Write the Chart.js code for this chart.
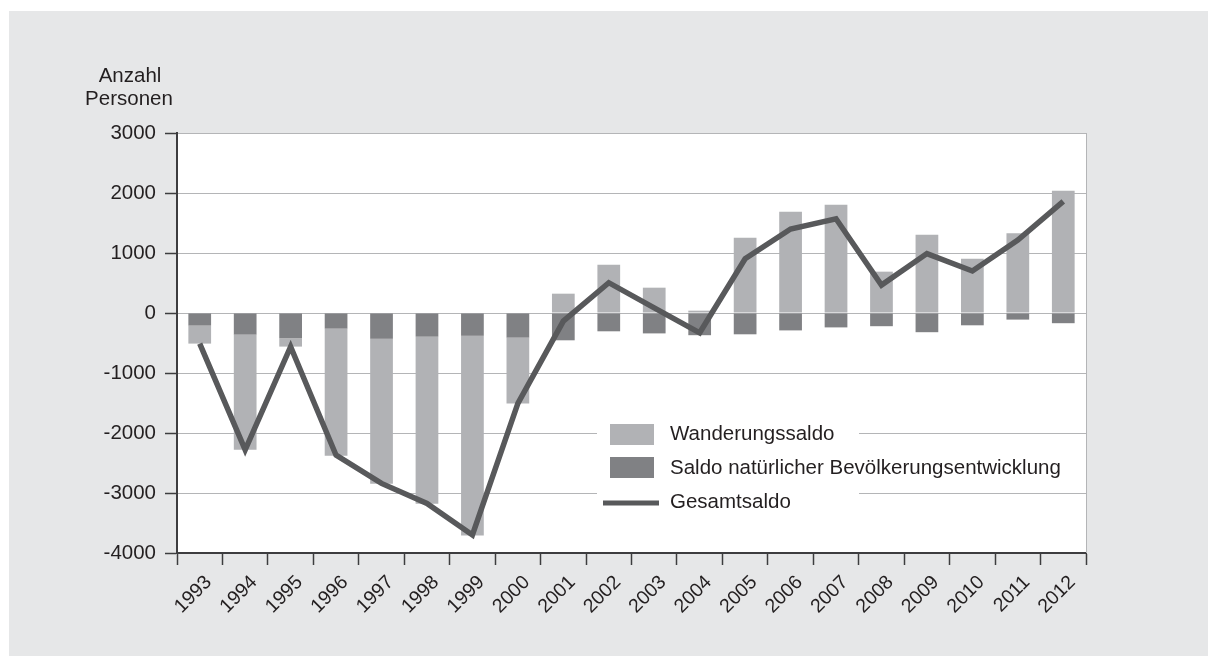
<!doctype html>
<html>
<head>
	<title>Bevölkerungssaldo 1993-2012</title>
	<script src="https://cdn.jsdelivr.net/npm/chart.js@4/dist/chart.umd.min.js"></script>
	<style>
	html, body {
		margin: 0;
		padding: 0;
		background: #fff;
	}
	.chart-container {
		width: 1208px;
		height: 656px;
	}
	</style>
</head>

<body>
	<div class="chart-container">
		<canvas id="chart"></canvas>
	</div>
	<script>
		var years = ['1993', '1994', '1995', '1996', '1997', '1998', '1999', '2000', '2001', '2002',
			'2003', '2004', '2005', '2006', '2007', '2008', '2009', '2010', '2011', '2012'];
		var natural = [-210, -360, -420, -260, -430, -395, -380, -410, -455, -305,
			-340, -370, -355, -290, -240, -220, -320, -205, -110, -170];
		var migration = [-300, -1920, -140, -2120, -2415, -2785, -3330, -1100, 322, 806,
			422, 39, 1256, 1689, 1806, 689, 1306, 906, 1328, 2039];
		var total = [-510, -2280, -560, -2370, -2840, -3175, -3700, -1505, -135, 505,
			85, -330, 905, 1400, 1570, 465, 990, 700, 1215, 1860];
		var seriesNames = ['Wanderungssaldo', 'Saldo natürlicher Bevölkerungsentwicklung', 'Gesamtsaldo'];
		var axisTitle = ['Anzahl', 'Personen'];

		var colors = {
			light: '#b1b2b5',
			dark: '#808184',
			line: '#58595b',
			panel: '#e6e7e8',
			grid: '#b4b5b7',
			axis: '#3d3d3f',
			text: '#231f20'
		};
		var fontFamily = "'Liberation Sans', Arial, sans-serif";
		var fontSize = 20.5;

		// background panel, white plot area, right border, title and legend
		var backdrop = {
			id: 'backdrop',
			beforeDraw: function(chart) {
				var ctx = chart.ctx;
				var a = chart.chartArea;
				ctx.save();
				ctx.fillStyle = '#fff';
				ctx.fillRect(0, 0, chart.width, chart.height);
				ctx.fillStyle = colors.panel;
				ctx.fillRect(9, 11, chart.width - 9, chart.height - 11);
				ctx.fillStyle = '#fff';
				ctx.fillRect(a.left, a.top, a.right - a.left, a.bottom - a.top);
				ctx.restore();
			},
			beforeDatasetsDraw: function(chart) {
				var ctx = chart.ctx;
				var a = chart.chartArea;
				ctx.save();
				ctx.strokeStyle = colors.grid;
				ctx.lineWidth = 1;
				ctx.beginPath();
				ctx.moveTo(a.right + 0.5, a.top);
				ctx.lineTo(a.right + 0.5, a.bottom);
				ctx.stroke();

				// axis title
				ctx.fillStyle = colors.text;
				ctx.font = fontSize + 'px ' + fontFamily;
				ctx.textAlign = 'center';
				ctx.textBaseline = 'middle';
				ctx.fillText(axisTitle[0], 130, 76);
				ctx.fillText(axisTitle[1], 129, 99);

				// legend
				ctx.fillStyle = '#fff';
				ctx.fillRect(597, 412, 262, 104);
				ctx.fillStyle = colors.light;
				ctx.fillRect(610, 424, 44, 21);
				ctx.fillStyle = colors.dark;
				ctx.fillRect(610, 457, 44, 21);
				ctx.strokeStyle = colors.line;
				ctx.lineWidth = 5;
				ctx.beginPath();
				ctx.moveTo(603, 503);
				ctx.lineTo(659, 503);
				ctx.stroke();
				ctx.fillStyle = colors.text;
				ctx.textAlign = 'left';
				ctx.fillText(seriesNames[0], 670, 434);
				ctx.fillText(seriesNames[1], 670, 468);
				ctx.fillText(seriesNames[2], 670, 502);
				ctx.restore();
			}
		};

		window.onload = function() {
			var ctx = document.getElementById('chart').getContext('2d');
			new Chart(ctx, {
				type: 'bar',
				data: {
					labels: years,
					datasets: [{
						type: 'line',
						label: seriesNames[2],
						data: total,
						stack: 'total',
						borderColor: colors.line,
						borderWidth: 5.5,
						pointRadius: 0,
						tension: 0,
						fill: false,
						order: 0
					}, {
						label: seriesNames[1],
						data: natural,
						backgroundColor: colors.dark,
						stack: 'saldo',
						order: 1
					}, {
						label: seriesNames[0],
						data: migration,
						backgroundColor: colors.light,
						stack: 'saldo',
						order: 1
					}]
				},
				options: {
					responsive: true,
					maintainAspectRatio: false,
					animation: false,
					datasets: {
						bar: {
							categoryPercentage: 1,
							barPercentage: 0.5
						}
					},
					layout: {
						padding: { left: 0, top: 133, right: 122, bottom: 0 }
					},
					plugins: {
						legend: { display: false },
						tooltip: { enabled: false }
					},
					scales: {
						x: {
							stacked: true,
							grid: {
								drawOnChartArea: false,
								tickLength: 12,
								tickColor: colors.axis,
								tickWidth: 1.5
							},
							border: { color: colors.axis, width: 2 },
							ticks: {
								minRotation: 45,
								maxRotation: 45,
								padding: 6,
								labelOffset: 9,
								color: colors.text,
								font: { family: fontFamily, size: 19.5 }
							},
							afterFit: function(scale) { scale.height = 103; }
						},
						y: {
							stacked: true,
							min: -4000,
							max: 3000,
							grid: {
								color: colors.grid,
								lineWidth: 1,
								tickLength: 12,
								tickColor: colors.axis,
								tickWidth: 1.5
							},
							border: { color: colors.axis, width: 2 },
							ticks: {
								stepSize: 1000,
								padding: 9,
								color: colors.text,
								font: { family: fontFamily, size: fontSize },
								callback: function(value) { return String(value); }
							},
							afterFit: function(scale) { scale.width = 177; }
						}
					}
				},
				plugins: [backdrop]
			});
		};
	</script>
</body>

</html>
